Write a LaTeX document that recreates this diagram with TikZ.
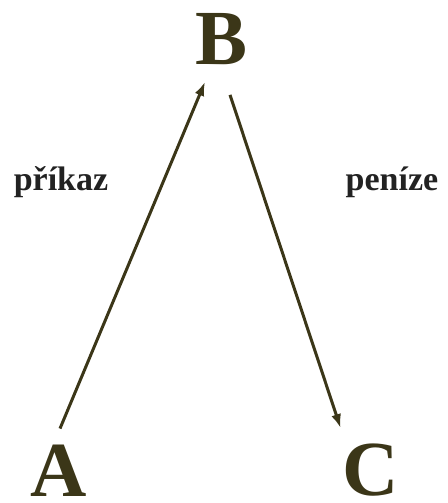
\documentclass[tikz,border=0pt]{standalone}
\usepackage{fontspec}
\setmainfont{Liberation Serif}
\usetikzlibrary{arrows.meta,calc}
\definecolor{olive}{HTML}{3B3618}
\definecolor{labelink}{HTML}{222222}
\tikzset{
  bigletter/.style={inner sep=0pt,font=\fontsize{78}{80}\selectfont\bfseries,text=olive},
  sidelabel/.style={inner sep=0pt,font=\fontsize{34}{36}\selectfont\bfseries,text=labelink},
  flowarr/.style={-{Latex[length=14pt,width=10pt]},line width=3pt,color=olive}
}
\begin{document}
\begin{tikzpicture}[x=1pt,y=-1pt]
  \useasboundingbox (0,0) rectangle (447,503);
  % the three parties
  \node[bigletter] (B) at (222,39) {B};
  \node[bigletter] (A) at (59,470.5) {A};
  \node[bigletter] (C) at (371,470.5) {C};
  % labels
  \node[sidelabel] (prikaz) at (61,182) {příkaz};
  \node[sidelabel] (penize) at (392,182) {peníze};
  % flows
  \draw[flowarr] ($(A.north)+(1,-16)$) -- ($(B.south)+(-17,17)$);
  \draw[flowarr] ($(B.south)+(8,30)$) -- ($(C.north west)+(-2,-16)$);
\end{tikzpicture}
\end{document}
